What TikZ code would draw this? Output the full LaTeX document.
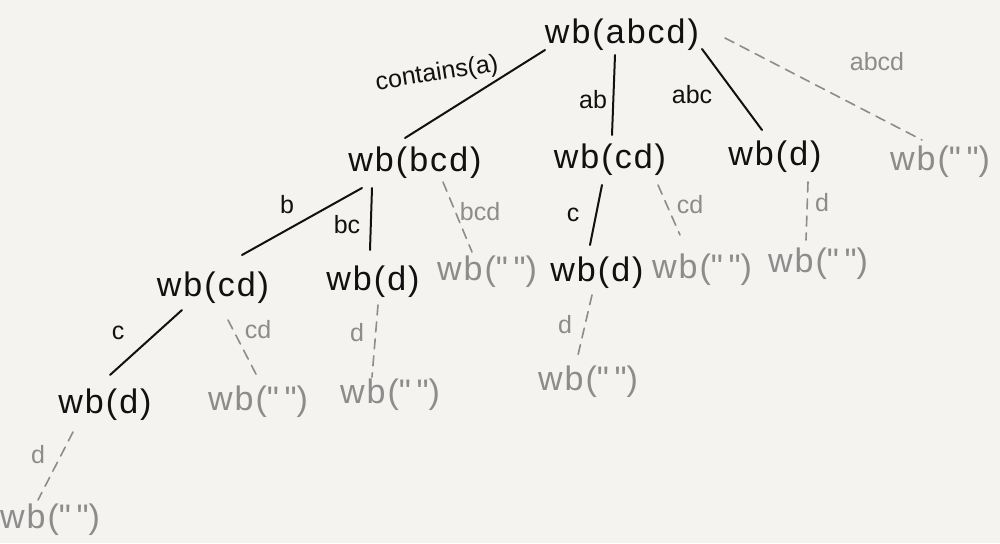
\documentclass[tikz,border=0pt]{standalone}
\usepackage{fontspec}
\setmainfont{Liberation Sans}
\usetikzlibrary{calc}
\definecolor{paper}{HTML}{F4F3EF}
\definecolor{ink}{HTML}{111111}
\definecolor{pencil}{HTML}{8C8C8C}
\newcommand{\emp}{\textquotedbl\,\textquotedbl}
\tikzset{
  big/.style={font=\fontsize{34}{40}\selectfont\addfontfeatures{LetterSpace=6}, inner sep=1pt},
  tnode/.style={big, text=ink},
  gnode/.style={big, text=pencil},
  lab/.style={font=\fontsize{25}{30}\selectfont, inner sep=0pt, text=ink},
  glab/.style={font=\fontsize{25}{30}\selectfont, inner sep=0pt, text=pencil},
  edge/.style={draw=ink, line width=2pt, line cap=round},
  gedge/.style={draw=pencil, line width=1.6pt, line cap=round, dash pattern=on 10pt off 7pt},
}
\begin{document}
\begin{tikzpicture}[x=1pt,y=-1pt]
\fill[paper] (0,0) rectangle (1000,543);
\useasboundingbox (0,0) rectangle (1000,543);
% nodes
\node[tnode] (root) at (622,35) {wb(abcd)};
\node[tnode] (bcd) at (415,163) {wb(bcd)};
\node[tnode] (cd1) at (610,160) {wb(cd)};
\node[tnode] (d1) at (775,157) {wb(d)};
\node[gnode] (e1) at (940,162) {wb(\emp)};
\node[tnode] (cd2) at (213,288) {wb(cd)};
\node[tnode] (d2) at (373,282) {wb(d)};
\node[gnode] (e2) at (487,272) {wb(\emp)};
\node[tnode] (d3) at (597,273) {wb(d)};
\node[gnode] (e3) at (702,270) {wb(\emp)};
\node[gnode] (e4) at (818,264) {wb(\emp)};
\node[tnode] (d4) at (105,405) {wb(d)};
\node[gnode] (e5) at (258,402) {wb(\emp)};
\node[gnode] (e6) at (390,395) {wb(\emp)};
\node[gnode] (e7) at (588,382) {wb(\emp)};
\node[gnode] (e8) at (50,520) {wb(\emp)};
% edges
\draw[edge] ($(root)+(-77,15)$) -- ($(bcd)+(-10,-25)$);
\draw[edge] ($(root)+(-7,20)$) -- ($(cd1)+(2,-25)$);
\draw[edge] ($(root)+(80,14)$) -- ($(d1)+(-13,-27)$);
\draw[gedge] ($(root)+(103,3)$) -- ($(e1)+(-18,-22)$);
\draw[edge] ($(bcd)+(-53,25)$) -- ($(cd2)+(29,-33)$);
\draw[edge] ($(bcd)+(-43,25)$) -- ($(d2)+(-3,-32)$);
\draw[gedge] ($(bcd)+(28,19)$) -- ($(e2)+(-15,-20)$);
\draw[edge] ($(cd1)+(-8,25)$) -- ($(d3)+(-7,-28)$);
\draw[gedge] ($(cd1)+(48,25)$) -- ($(e3)+(-22,-35)$);
\draw[gedge] ($(d1)+(33,25)$) -- ($(e4)+(-12,-24)$);
\draw[edge] ($(cd2)+(-31,22)$) -- ($(d4)+(5,-30)$);
\draw[gedge] ($(cd2)+(15,32)$) -- ($(e5)+(0,-24)$);
\draw[gedge] ($(d2)+(5,23)$) -- ($(e6)+(-18,-18)$);
\draw[gedge] ($(d3)+(-5,22)$) -- ($(e7)+(-10,-27)$);
\draw[gedge] ($(d4)+(-32,27)$) -- ($(e8)+(-12,-20)$);
% labels
\node[lab, rotate=9] (l1) at (437,74) {contains(a)};
\node[lab] (l2) at (593,100) {ab};
\node[lab] (l3) at (692,95) {abc};
\node[glab] (l4) at (877,62) {abcd};
\node[lab] (l5) at (287,205) {b};
\node[lab] (l6) at (347,225) {bc};
\node[glab] (l7) at (480,212) {bcd};
\node[lab] (l8) at (573,215) {c};
\node[glab] (l9) at (690,205) {cd};
\node[glab] (l10) at (822,203) {d};
\node[lab] (l11) at (118,333) {c};
\node[glab] (l12) at (258,330) {cd};
\node[glab] (l13) at (357,333) {d};
\node[glab] (l14) at (565,325) {d};
\node[glab] (l15) at (38,455) {d};
\end{tikzpicture}
\end{document}
